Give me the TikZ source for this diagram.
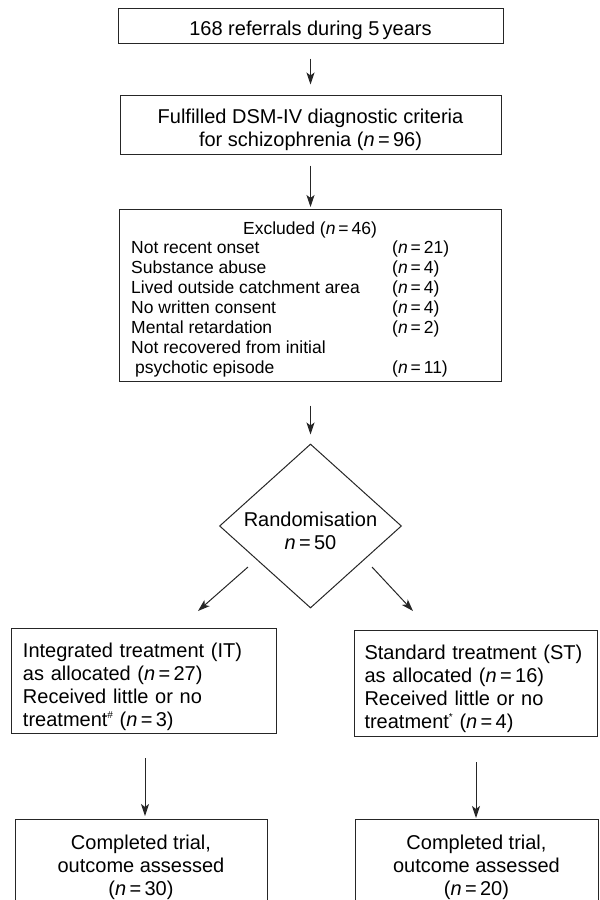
\documentclass[tikz,border=0pt]{standalone}
\usepackage{fontspec}
\setmainfont{Liberation Sans}
\usetikzlibrary{arrows.meta,shapes.geometric}
\newcommand\nn{\textit{n}\,=\,}
\begin{document}
\begin{tikzpicture}[x=1pt,y=-1pt,
  box/.style={draw=black!85, line width=1pt, inner sep=0pt},
  bigtxt/.style={font=\fontsize{20}{23}\selectfont},
  smtxt/.style={font=\fontsize{17.5}{20}\selectfont, inner sep=0pt},
  arr/.style={draw=black!85, line width=1pt, -{Stealth[length=12pt,width=8pt,inset=3pt]}}]
\path[use as bounding box] (0,0) rectangle (600,900);
\clip (0,0) rectangle (600,900);

\node[box,bigtxt,minimum width=385pt,minimum height=35pt,text height=22pt,text depth=2.6pt] (b1) at (310.5,25.5) {168 referrals during 5\,years};
\node[box,bigtxt,minimum width=381pt,minimum height=59pt,align=center,text height=45pt,text depth=1.8pt] (b2) at (310.5,124.5) {Fulfilled DSM-IV diagnostic criteria\\for schizophrenia (\nn96)};
\node[box,minimum width=382pt,minimum height=172pt] (b3) at (310.5,295) {};
\node[smtxt,anchor=base] (exh) at (310,234) {Excluded (\nn46)};
\node[smtxt,anchor=north west] (exl) at (131,239) {\begin{tabular}{@{}p{261pt}@{}l@{}}
Not recent onset & (\nn21)\\
Substance abuse & (\nn4)\\
Lived outside catchment area & (\nn4)\\
No written consent & (\nn4)\\
Mental retardation & (\nn2)\\
Not recovered from initial & \\
\hspace*{4pt}psychotic episode & (\nn11)
\end{tabular}};

\node[box,bigtxt,shape=diamond,shape aspect=1.11,inner sep=-2pt,minimum width=182pt,minimum height=164pt,align=center,text height=47pt,text depth=0pt] (rand) at (310.5,526) {Randomisation\\\textit{n}\,=\,50};

\node[box,bigtxt,text width=241pt,inner xsep=12pt,minimum height=105pt,align=left,text height=20pt,text depth=67pt] (it) at (143.5,680.5)
 {Integrated treatment (IT)\\as allocated (\nn27)\\Received little or no\\treatment\raisebox{8pt}{\fontsize{10}{10}\selectfont\#} (\nn3)};
\node[box,bigtxt,text width=222pt,inner xsep=10.5pt,minimum height=106pt,align=left,text height=20pt,text depth=67pt] (st) at (475.5,683)
 {Standard treatment (ST)\\as allocated (\nn16)\\Received little or no\\treatment\raisebox{8pt}{\fontsize{10}{10}\selectfont*} (\nn4)};

\node[box,bigtxt,align=center,anchor=north,minimum width=252pt,minimum height=90pt,text height=62pt,text depth=0pt] (c1) at (141,819) {Completed trial,\\outcome assessed\\(\nn30)};
\node[box,bigtxt,align=center,anchor=north,minimum width=243pt,minimum height=90pt,text height=62pt,text depth=0pt] (c2) at (476.5,819) {Completed trial,\\outcome assessed\\(\nn20)};

\draw[arr,shorten <=15pt,shorten >=10pt] (b1) -- (b2);
\draw[arr,shorten <=11pt,shorten >=1.5pt] (b2) -- (b3);
\draw[arr,shorten <=24pt,shorten >=9pt] (b3) -- (rand);

\coordinate (dl1) at (248,567);
\coordinate (dl2) at (198,611);
\coordinate (dr1) at (372,567);
\coordinate (dr2) at (413,611);
\draw[arr] (dl1) -- (dl2);
\draw[arr] (dr1) -- (dr2);

\coordinate (da1) at (145,758);
\coordinate (da2) at (145,816);
\coordinate (db1) at (476,762);
\coordinate (db2) at (476,818);
\draw[arr] (da1) -- (da2);
\draw[arr] (db1) -- (db2);
\end{tikzpicture}
\end{document}
